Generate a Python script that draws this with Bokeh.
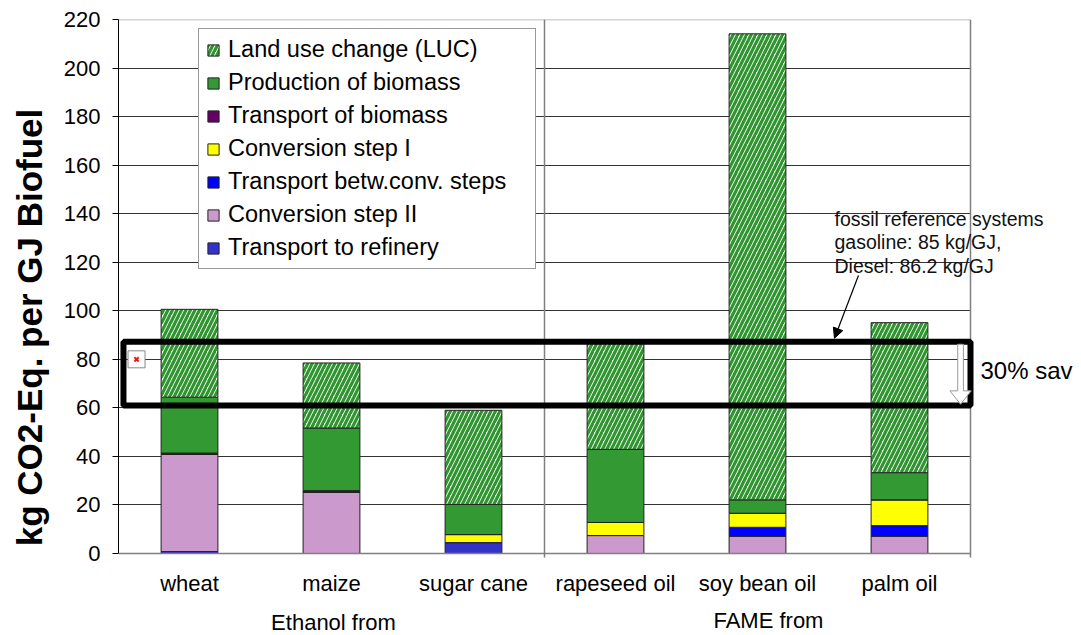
import numpy as np
from bokeh.plotting import figure
from bokeh.models import (ColumnDataSource, Range1d, FixedTicker, Legend, LegendItem,
                          BoxAnnotation, Label, Arrow, NormalHead, PolyAnnotation, Grid)
from bokeh.embed import file_html
from bokeh.resources import INLINE

# ---------------- data ----------------
categories = ["wheat", "maize", "sugar cane", "rapeseed oil", "soy bean oil", "palm oil"]
group_labels = ["Ethanol from", "FAME from"]

# stacked from bottom to top
transport_refinery = [0.8, 0.0, 4.5, 0.0, 0.0, 0.0]
conversion_II      = [40.0, 25.3, 0.0, 7.4, 7.1, 7.1]
transport_between  = [0.0, 0.0, 0.0, 0.0, 3.7, 4.4]
conversion_I       = [0.0, 0.0, 3.3, 5.4, 5.8, 10.6]
transport_biomass  = [0.6, 0.6, 0.0, 0.0, 0.0, 0.0]
production_biomass = [23.0, 25.8, 12.4, 30.1, 5.5, 11.2]
land_use_change    = [36.2, 26.8, 38.8, 43.7, 192.0, 61.8]

series_names = ["Transport to refinery", "Conversion step II", "Transport betw.conv. steps",
                "Conversion step I", "Transport of biomass", "Production of biomass",
                "Land use change (LUC)"]
series_values = [transport_refinery, conversion_II, transport_between, conversion_I,
                 transport_biomass, production_biomass, land_use_change]
series_colors = ["#3333CC", "#CC99CC", "#0000FF", "#FFFF00", "#660066", "#339933", "#FFFFFF"]

fossil_text = ["fossil reference systems", "gasoline: 85 kg/GJ,", "Diesel: 86.2 kg/GJ"]
saving_text = "30% sav"
box_top = 87.2      # fossil reference level
box_bottom = 61.0   # 30 % saving level
y_ticks = list(range(0, 221, 20))

FONT = "Liberation Sans"
W, H = 1081, 635
LEFT, TOP = 118, 19            # frame offset in canvas
PLOT_W, PLOT_H = 852, 534      # pixel size of the chart body (0..6 x 0..220)
n = len(categories)
x_pos = np.arange(n) + 0.5
x_end = n * (W - LEFT) / PLOT_W
y_start = -220 * (H - TOP - PLOT_H) / PLOT_H

p = figure(x_range=Range1d(0, x_end), y_range=Range1d(y_start, 220),
           width=W, height=H, output_backend="svg", toolbar_location=None,
           min_border_left=LEFT, min_border_right=0, min_border_top=TOP, min_border_bottom=0)
p.outline_line_color = None
p.xgrid.grid_line_color = None
p.ygrid.ticker = FixedTicker(ticks=y_ticks[1:-1])
p.ygrid.grid_line_color = "#333333"
p.ygrid.grid_line_width = 1
if "cross_bounds" in Grid.properties():
    p.ygrid.cross_bounds = (0, n)
    use_seg_grid = False
else:
    p.ygrid.grid_line_color = None
    use_seg_grid = True

if use_seg_grid:
    p.segment(x0=0, x1=n, y0=y_ticks[1:-1], y1=y_ticks[1:-1], line_color="#333333", line_width=1)

# frame borders: top, right, group divider
p.segment(x0=[0], x1=[n], y0=[220], y1=[220], line_color="#aaaaaa", line_width=1.5)
p.segment(x0=[n, n / 2], x1=[n, n / 2], y0=[-1.6, -1.6], y1=[220, 220],
          line_color="#808080", line_width=1.5)

# stacked bars
bottom = np.zeros(n)
renderers = []
for name, vals, col in zip(series_names, series_values, series_colors):
    vals = np.array(vals, dtype=float)
    src = ColumnDataSource(dict(x=x_pos, bottom=bottom.copy(), top=bottom + vals))
    kw = dict(x="x", bottom="bottom", top="top", width=0.4, source=src,
              fill_color=col, line_color="#222222", line_width=1)
    if name.startswith("Land use"):
        kw.update(hatch_pattern="/", hatch_color="#2f962f", hatch_scale=9, hatch_weight=3.2)
    renderers.append(p.vbar(**kw))
    bottom = bottom + vals

# reference box
p.add_layout(BoxAnnotation(left=0.035, right=n, bottom=box_bottom, top=box_top,
                           fill_alpha=0, line_color="black", line_alpha=1, line_width=6))

# broken image icon
p.scatter(x=[0.127], y=[80], marker="square", size=17, fill_color="white",
          line_color="#888888", line_width=1)
p.scatter(x=[0.127], y=[80], marker="x", size=6, line_color="#e02020", line_width=2)

# hollow down arrow (30% saving)
xc = 5.93
p.add_layout(PolyAnnotation(
    xs=[xc - 0.02, xc + 0.02, xc + 0.02, xc + 0.075, xc, xc - 0.075, xc - 0.02],
    ys=[box_top - 1, box_top - 1, box_bottom + 6, box_bottom + 6, box_bottom + 0.5,
        box_bottom + 6, box_bottom + 6],
    fill_color="white", fill_alpha=1, line_color="#999999", line_alpha=1, line_width=1))

# fossil reference annotation
for i, t in enumerate(fossil_text):
    p.add_layout(Label(x=5.042, y=138.0 - i * 9.68, text=t, text_font=FONT,
                       text_font_size="19.5px", text_baseline="middle", text_color="#111111"))
p.add_layout(Arrow(end=NormalHead(size=10, fill_color="black", line_color="black"),
                   x_start=5.211, y_start=114.5, x_end=5.042, y_end=box_top + 1.5,
                   line_width=1.2, line_color="black"))

p.add_layout(Label(x=6.07, y=75.4, text=saving_text, text_font=FONT, text_font_size="24px",
                   text_baseline="middle", text_color="black"))

# group labels
for gx, gy, g in zip([1.514, 4.577], [-28.4, -27.4], group_labels):
    p.add_layout(Label(x=gx, y=gy, text=g, text_font=FONT, text_font_size="22px",
                       text_align="center", text_baseline="middle", text_color="black"))

# axes
p.yaxis.ticker = FixedTicker(ticks=y_ticks)
p.yaxis.bounds = (0, 220)
p.yaxis.axis_label = "kg CO2-Eq. per GJ Biofuel"
p.yaxis.axis_label_text_font = FONT
p.yaxis.axis_label_text_font_style = "bold"
p.yaxis.axis_label_text_font_size = "35px"
p.yaxis.axis_label_text_color = "black"
p.yaxis.axis_label_standoff = 12
p.yaxis.major_label_text_font = FONT
p.yaxis.major_label_text_font_size = "22px"
p.yaxis.major_label_text_color = "black"
p.yaxis.major_label_standoff = 12
p.yaxis.major_tick_out = 6
p.yaxis.major_tick_in = 0
p.yaxis.minor_tick_line_color = None
p.yaxis.axis_line_color = "black"

p.xaxis.fixed_location = 0
p.xaxis.bounds = (0, n)
p.xaxis.ticker = FixedTicker(ticks=list(x_pos))
p.xaxis.major_label_overrides = {float(x): c for x, c in zip(x_pos, categories)}
p.xaxis.major_label_text_font = FONT
p.xaxis.major_label_text_font_size = "22px"
p.xaxis.major_label_text_color = "black"
p.xaxis.major_label_standoff = 11
p.xaxis.major_tick_line_color = None
p.xaxis.minor_tick_line_color = None
p.xaxis.axis_line_color = "#808080"
p.xaxis.axis_line_width = 1.5

# legend
items = [LegendItem(label=nm, renderers=[r]) for nm, r in zip(series_names, renderers)][::-1]
legend = Legend(items=items, location=(80, H - 269),
                label_text_font=FONT, label_text_font_size="23.5px", label_text_color="black",
                glyph_width=14, glyph_height=14, label_standoff=8, spacing=6, padding=7,
                label_height=20, label_width=300, border_line_color="#333333",
                border_line_width=1, background_fill_alpha=1, margin=0)
p.add_layout(legend, "center")

open("out.html", "w").write(file_html(p, INLINE))
